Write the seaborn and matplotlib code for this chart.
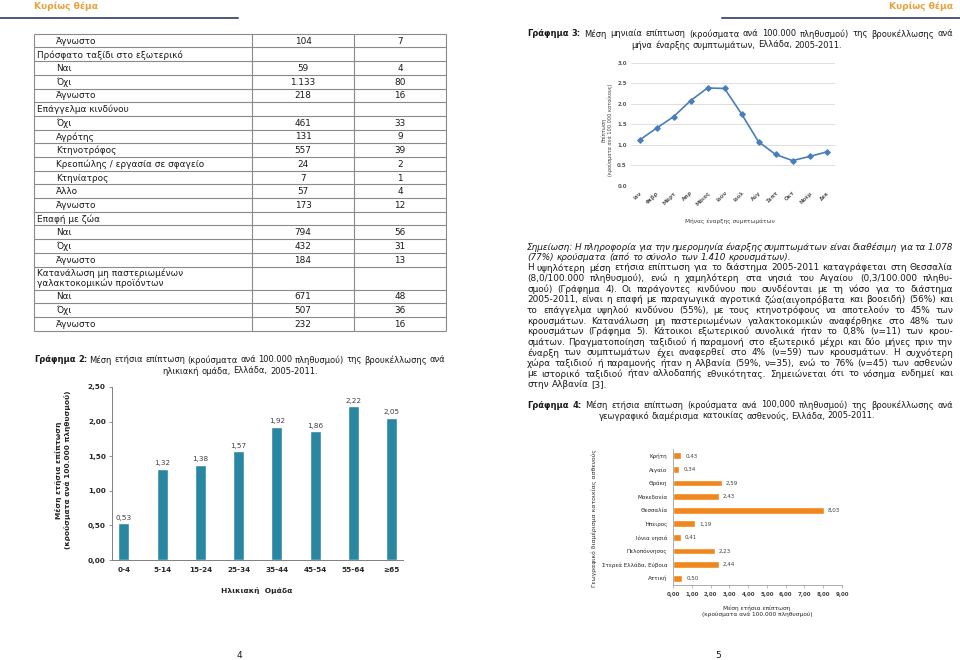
import numpy as np
import matplotlib
matplotlib.use("Agg")
import matplotlib.pyplot as plt
import seaborn as sns

# ---- data ----
table_labels = ["Άγνωστο", "Πρόσφατο ταξίδι στο εξωτερικό", "Ναι", "Όχι", "Άγνωστο",
                "Επάγγελμα κινδύνου", "Όχι", "Αγρότης", "Κτηνοτρόφος",
                "Κρεοπώλης / εργασία σε σφαγείο", "Κτηνίατρος", "Άλλο", "Άγνωστο",
                "Επαφή με ζώα", "Ναι", "Όχι", "Άγνωστο",
                "Κατανάλωση μη παστεριωμένων\nγαλακτοκομικών προϊόντων",
                "Ναι", "Όχι", "Άγνωστο"]
table_cases = ["104", "", "59", "1.133", "218", "", "461", "131", "557", "24", "7",
               "57", "173", "", "794", "432", "184", "", "671", "507", "232"]
table_pct = ["7", "", "4", "80", "16", "", "33", "9", "39", "2", "1",
             "4", "12", "", "56", "31", "13", "", "48", "36", "16"]

age_groups = ["0-4", "5-14", "15-24", "25-34", "35-44", "45-54", "55-64", "≥65"]
age_rates = [0.53, 1.32, 1.38, 1.57, 1.92, 1.86, 2.22, 2.05]

months = ["Ιαν", "Φεβρ", "Μάρτ", "Απρ", "Μάιος", "Ιούν", "Ιούλ", "Αύγ",
          "Σεπτ", "Οκτ", "Νοέμ", "Δεκ"]
month_rates = [1.12, 1.41, 1.69, 2.08, 2.39, 2.38, 1.76, 1.08, 0.77, 0.62, 0.72, 0.83]

regions = ["Κρήτη", "Αιγαίο", "Θράκη", "Μακεδονία", "Θεσσαλία", "Ήπειρος",
           "Ιόνια νησιά", "Πελοπόννησος", "Στερεά Ελλάδα, Εύβοια", "Αττική"]
region_rates = [0.43, 0.34, 2.59, 2.43, 8.03, 1.19, 0.41, 2.23, 2.44, 0.50]

caption2 = ["Γράφημα 2: Μέση ετήσια επίπτωση (κρούσματα ανά 100.000 πληθυσμού) της βρουκέλλωσης ανά",
            "ηλικιακή ομάδα, Ελλάδα, 2005-2011."]
caption3 = ["Γράφημα 3: Μέση μηνιαία επίπτωση (κρούσματα ανά 100.000 πληθυσμού) της βρουκέλλωσης ανά",
            "μήνα έναρξης συμπτωμάτων, Ελλάδα, 2005-2011."]
caption4 = ["Γράφημα 4: Μέση ετήσια επίπτωση (κρούσματα ανά 100,000 πληθυσμού) της βρουκέλλωσης ανά",
            "γεωγραφικό διαμέρισμα κατοικίας ασθενούς, Ελλάδα, 2005-2011."]
note_lines = ["Σημείωση: Η πληροφορία για την ημερομηνία έναρξης συμπτωμάτων είναι διαθέσιμη για τα 1.078",
              "(77%) κρούσματα (από το σύνολο των 1.410 κρουσμάτων)."]
para_lines = [
    "Η υψηλότερη μέση ετήσια επίπτωση για το διάστημα 2005-2011 καταγράφεται στη Θεσσαλία",
    "(8,0/100.000 πληθυσμού), ενώ η χαμηλότερη στα νησιά του Αιγαίου (0,3/100.000 πληθυ-",
    "σμού) (Γράφημα 4). Οι παράγοντες κινδύνου που συνδέονται με τη νόσο για το διάστημα",
    "2005-2011, είναι η επαφή με παραγωγικά αγροτικά ζώα(αιγοπρόβατα και βοοειδή) (56%) και",
    "το επάγγελμα υψηλού κινδύνου (55%), με τους κτηνοτρόφους να αποτελούν το 45% των",
    "κρουσμάτων. Κατανάλωση μη παστεριωμένων γαλακτοκομικών αναφέρθηκε στο 48% των",
    "κρουσμάτων (Γράφημα 5). Κάτοικοι εξωτερικού συνολικά ήταν το 0,8% (ν=11) των κρου-",
    "σμάτων. Πραγματοποίηση ταξιδιού ή παραμονή στο εξωτερικό μέχρι και δύο μήνες πριν την",
    "έναρξη των συμπτωμάτων έχει αναφερθεί στο 4% (ν=59) των κρουσμάτων. Η συχνότερη",
    "χώρα ταξιδιού ή παραμονής ήταν η Αλβανία (59%, ν=35), ενώ το 76% (ν=45) των ασθενών",
    "με ιστορικό ταξιδιού ήταν αλλοδαπής εθνικότητας. Σημειώνεται ότι το νόσημα ενδημεί και",
    "στην Αλβανία [3].",
]

teal = "#2A87A2"
orange = "#F0861C"
line_blue = "#4A7EBB"
header_orange = "#E9A23B"
text_col = "#1A1A1A"

W, H = 960, 660
sns.set_theme(style="white")
plt.rcParams["font.family"] = ["DejaVu Sans"]

fig = plt.figure(figsize=(9.6, 6.6), dpi=100)
page = fig.add_axes([0, 0, 1, 1])
page.set_xlim(0, W)
page.set_ylim(H, 0)
page.axis("off")
renderer = fig.canvas.get_renderer()


def px_axes(left, top, right, bottom):
    """Axes placed in page pixel coordinates."""
    return fig.add_axes([left / W, 1 - bottom / H, (right - left) / W, (bottom - top) / H])


def text_line(line, y, x0, x1=None, center=None, bold_words=0, size=6.2, style="normal"):
    """Write one line word by word, justified between x0 and x1 or centred."""
    words = line.split(" ")
    items = [page.text(0, y, w, fontsize=size, style=style, color=text_col,
                       fontweight="bold" if i < bold_words else "normal",
                       ha="left", va="center")
             for i, w in enumerate(words)]
    widths = [t.get_window_extent(renderer).width for t in items]
    if x1 is not None and len(items) > 1:
        gap = (x1 - x0 - sum(widths)) / (len(items) - 1)
    else:
        gap = size * 100 / 72 * 0.318
        if center is not None:
            x0 = center - (sum(widths) + gap * (len(items) - 1)) / 2
    x = x0
    for t, w in zip(items, widths):
        t.set_x(x)
        x += w + gap


# ---- page furniture ----
page.text(34, 6, "Κυρίως θέμα", color=header_orange, fontsize=6.6, fontweight="bold", va="center")
page.text(953, 6, "Κυρίως θέμα", color=header_orange, fontsize=6.6, fontweight="bold",
          va="center", ha="right")
page.plot([0, 238], [17.5, 17.5], color="#4B5878", lw=1.4)
page.plot([722, 960], [17.5, 17.5], color="#4B5878", lw=1.4)
page.text(239, 656, "4", fontsize=6.5, ha="center", va="center", color=text_col)
page.text(718, 656, "5", fontsize=6.5, ha="center", va="center", color=text_col)

# ---- table ----
row_h = np.array([23.0 if "\n" in lab else 13.7 for lab in table_labels])
bounds = 33.7 + np.concatenate([[0], np.cumsum(row_h)])
page.hlines(bounds, 34, 446, color="#8A8A8A", lw=0.8)
page.vlines([34, 251.5, 354, 446], bounds[0], bounds[-1], color="#8A8A8A", lw=0.8)
for i, lab in enumerate(table_labels):
    yc = (bounds[i] + bounds[i + 1]) / 2
    group = table_cases[i] == ""
    page.text(37 if group else 56, yc + 0.5, lab, fontsize=6.4, color=text_col,
              va="center", ha="left", linespacing=1.05)
    page.text(303, yc + 0.5, table_cases[i], fontsize=6.4, color=text_col, ha="center", va="center")
    page.text(400, yc + 0.5, table_pct[i], fontsize=6.4, color=text_col, ha="center", va="center")

# ---- captions and running text ----
cap = 6.0
body = 6.4
text_line(caption2[0], 360, 34, 445, bold_words=2, size=cap)
text_line(caption2[1], 371, 0, center=240, size=cap)
text_line(caption3[0], 34, 527, 953, bold_words=2, size=cap)
text_line(caption3[1], 45, 0, center=737, size=cap)
text_line(note_lines[0], 247, 527, 953, style="italic", size=body)
text_line(note_lines[1], 257.5, 527, style="italic", size=body)
for i, line in enumerate(para_lines):
    last = i == len(para_lines) - 1
    text_line(line, 268 + 10.6 * i, 527, None if last else 953, size=body)
text_line(caption4[0], 405, 527, 953, bold_words=2, size=cap)
text_line(caption4[1], 416, 0, center=737, size=cap)


def comma(v):
    return f"{v:.2f}".replace(".", ",")


# ---- Graph 2: incidence by age group ----
ax2 = px_axes(112, 387, 403, 560)
sns.barplot(x=age_groups, y=age_rates, color=teal, saturation=1, width=0.29, ax=ax2)
ax2.set_xlim(-0.31, 7.3)
ax2.set_ylim(0, 2.5)
ticks2 = np.arange(0, 2.51, 0.5)
ax2.set_yticks(ticks2)
ax2.set_yticklabels([comma(v) for v in ticks2], fontsize=5.2, fontweight="bold", color="#262626")
ax2.set_xticks(range(len(age_groups)))
ax2.set_xticklabels(age_groups, fontsize=5.2, fontweight="bold", color="#262626")
ax2.bar_label(ax2.containers[0], labels=[comma(v) for v in age_rates],
              padding=2, fontsize=5.2, color="#404040")
ax2.tick_params(axis="y", length=2.5, width=0.6, color="#808080", pad=2, left=True)
ax2.tick_params(axis="x", length=0, pad=5)
for side in ["top", "right"]:
    ax2.spines[side].set_visible(False)
for side in ["left", "bottom"]:
    ax2.spines[side].set_color("#808080")
    ax2.spines[side].set_linewidth(0.7)
ax2.set_xlabel("")
ax2.set_ylabel("")
ax2.set_facecolor("none")
page.text(257, 590, "Ηλικιακή  Ομάδα", fontsize=5.4, fontweight="bold", ha="center",
          va="center", color="#262626")
page.text(63, 470, "Μέση ετήσια επίπτωση\n(κρούσματα ανά 100.000 πληθυσμού)", fontsize=5.3,
          fontweight="bold", rotation=90, ha="center", va="center", color="#262626",
          linespacing=1.2, multialignment="center")

# ---- Graph 3: monthly incidence ----
ax3 = px_axes(631, 63, 835, 186)
sns.pointplot(x=months, y=month_rates, color=line_blue, markers="D", markersize=2.8,
              linewidth=1.2, errorbar=None, ax=ax3)
ax3.set_xlim(-0.5, 11.5)
ax3.set_ylim(0, 3.0)
ticks3 = np.arange(0, 3.01, 0.5)
ax3.set_yticks(ticks3)
ax3.set_yticklabels([f"{v:.1f}" for v in ticks3], fontsize=3.9, fontweight="bold", color="#595959")
ax3.set_xticks(range(len(months)))
ax3.set_xticklabels(months, fontsize=3.9, fontweight="bold", color="#595959",
                    rotation=45, ha="right", rotation_mode="anchor")
ax3.grid(axis="y", color="#D9D9D9", lw=0.6)
ax3.set_axisbelow(True)
ax3.tick_params(length=0, pad=3)
for side in ax3.spines:
    ax3.spines[side].set_visible(False)
ax3.set_xlabel("")
ax3.set_ylabel("")
ax3.set_facecolor("none")
page.text(730, 221, "Μήνας έναρξης συμπτωμάτων", fontsize=4.2, ha="center", va="center",
          color="#404040")
page.text(607, 130, "Επίπτωση\n(κρούσματα ανά 100.000 κατοίκους)", fontsize=3.6,
          rotation=90, ha="center", va="center", color="#404040", linespacing=1.15,
          multialignment="center")

# ---- Graph 4: incidence by region ----
ax4 = px_axes(673, 449, 842, 585)
sns.barplot(x=region_rates, y=regions, orient="h", color=orange, saturation=1,
            width=0.5, ax=ax4)
ax4.set_xlim(0, 9)
ax4.set_ylim(9.5, -0.5)
ax4.set_xticks(range(10))
ax4.set_xticklabels([comma(v) for v in range(10)], fontsize=4.0, fontweight="bold", color="#404040")
ax4.set_yticks(range(len(regions)))
ax4.set_yticklabels(regions, fontsize=4.1, color="#262626")
ax4.bar_label(ax4.containers[0], labels=[comma(v) for v in region_rates],
              padding=3, fontsize=4.0, color="#404040")
ax4.tick_params(axis="x", length=2, width=0.5, color="#A0A0A0", pad=3, bottom=True)
ax4.tick_params(axis="y", length=0, pad=4)
for side in ["top", "right"]:
    ax4.spines[side].set_visible(False)
for side in ["left", "bottom"]:
    ax4.spines[side].set_color("#A0A0A0")
    ax4.spines[side].set_linewidth(0.6)
ax4.set_xlabel("")
ax4.set_ylabel("")
ax4.set_facecolor("none")
page.text(757, 611, "Μέση ετήσια επίπτωση\n(κρούσματα ανά 100.000 πληθυσμού)", fontsize=4.2,
          ha="center", va="center", color="#262626", linespacing=1.2, multialignment="center")
page.text(594, 518, "Γεωγραφικό διαμέρισμα κατοικίας ασθενούς", fontsize=4.4, rotation=90,
          ha="center", va="center", color="#262626")

fig.savefig("out.png", dpi=100, facecolor="white")
